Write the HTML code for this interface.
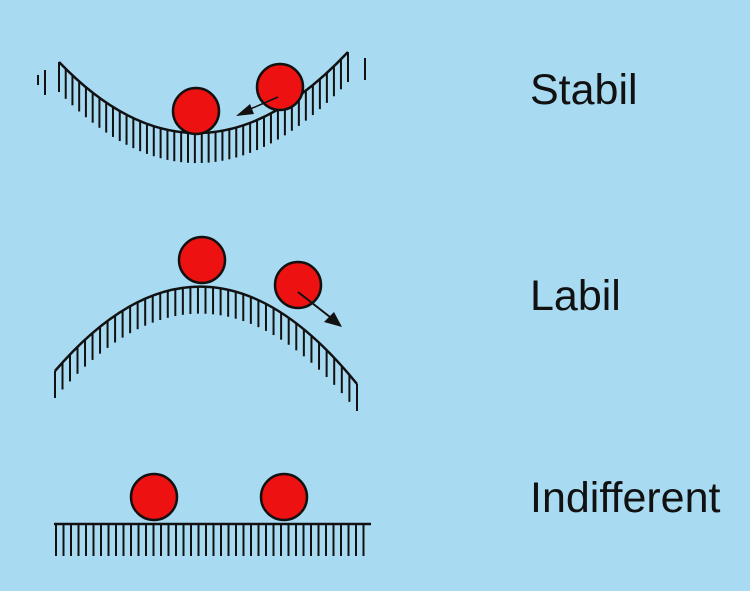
<!DOCTYPE html>
<html><head><meta charset="utf-8"><style>
html,body{margin:0;padding:0;background:#a8daf2;}
svg{display:block}
text{font-family:"Liberation Sans",sans-serif;font-size:43px;fill:#111;}
</style></head><body>
<svg id="s" width="750" height="591" viewBox="0 0 750 591">
<rect width="750" height="591" fill="#a8daf2"/>
<g id="h" stroke="#111" stroke-width="2"></g>
<path d="M59,62 Q200,209 348,52" fill="none" stroke="#111" stroke-width="2.5"/>
<path d="M55,371 Q205,196 357,384" fill="none" stroke="#111" stroke-width="2.5"/>
<line x1="54" y1="524" x2="371" y2="524" stroke="#111" stroke-width="2.5"/>
<g fill="#ee1111" stroke="#111" stroke-width="2.5">
<circle cx="196" cy="111" r="23"/><circle cx="280" cy="87" r="23"/>
<circle cx="202" cy="260" r="23"/><circle cx="298" cy="285" r="23"/>
<circle cx="154" cy="497" r="23"/><circle cx="284" cy="497" r="23"/>
</g>
<line x1="278" y1="97" x2="248" y2="110" stroke="#111" stroke-width="1.5"/>
<polygon points="236,116 250,104 254,114" fill="#111"/>
<line x1="298" y1="292" x2="330" y2="317" stroke="#111" stroke-width="2"/>
<polygon points="342,327 324,322 334,312" fill="#111"/>
<text x="530" y="104">Stabil</text>
<text x="530" y="310">Labil</text>
<text x="530" y="512">Indifferent</text>
</svg>
<script>
var g=document.getElementById('h'),s='';
function q(p0,c,p2,t){return (1-t)*(1-t)*p0+2*(1-t)*t*c+t*t*p2;}
for(var i=0;i<=42;i++){var t=i/42;var x=q(59,200,348,t),y=q(62,209,52,t);s+='<line x1="'+x+'" y1="'+y+'" x2="'+x+'" y2="'+(y+30)+'"/>';}
s+='<line x1="38" y1="75" x2="38" y2="85"/><line x1="45" y1="70" x2="45" y2="95"/><line x1="365" y1="58" x2="365" y2="80"/>';
for(var i=0;i<=40;i++){var t=i/40;var x=q(55,205,357,t),y=q(371,196,384,t);s+='<line x1="'+x+'" y1="'+y+'" x2="'+x+'" y2="'+(y+27)+'"/>';}
for(var x=56;x<=370;x+=7.5){s+='<line x1="'+x+'" y1="524" x2="'+x+'" y2="556"/>';}
g.innerHTML=s;
</script>
</body></html>
